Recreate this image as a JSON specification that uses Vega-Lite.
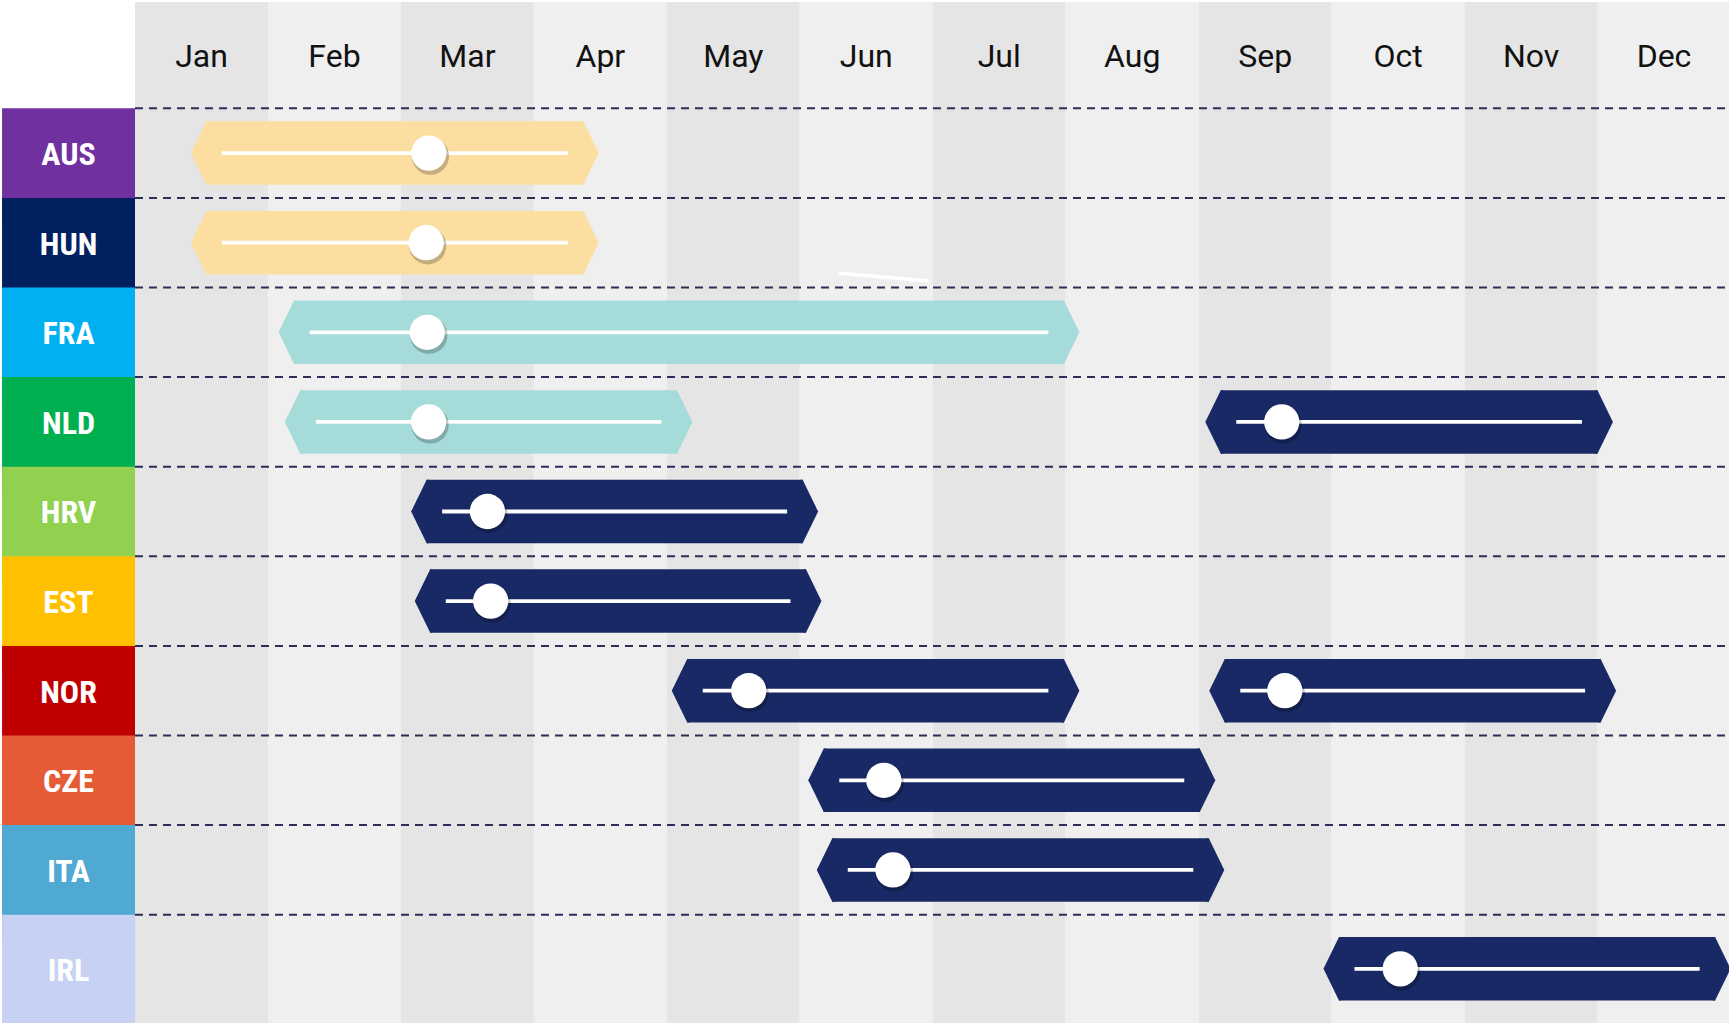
{
  "$schema": "https://vega.github.io/schema/vega-lite/v6.json",
  "width": 1729,
  "height": 1023,
  "padding": 0,
  "autosize": {"type": "none"},
  "background": "#ffffff",
  "config": {"view": {"stroke": null}, "axis": {"disable": true}, "legend": {"disable": true}},
  "resolve": {"scale": {"y": "independent"}},
  "datasets": {
    "months": [
      {"month": "Jan", "start": 0, "end": 1},
      {"month": "Feb", "start": 1, "end": 2},
      {"month": "Mar", "start": 2, "end": 3},
      {"month": "Apr", "start": 3, "end": 4},
      {"month": "May", "start": 4, "end": 5},
      {"month": "Jun", "start": 5, "end": 6},
      {"month": "Jul", "start": 6, "end": 7},
      {"month": "Aug", "start": 7, "end": 8},
      {"month": "Sep", "start": 8, "end": 9},
      {"month": "Oct", "start": 9, "end": 10},
      {"month": "Nov", "start": 10, "end": 11},
      {"month": "Dec", "start": 11, "end": 12}
    ],
    "countries": [
      {"country": "AUS", "row": 1},
      {"country": "HUN", "row": 2},
      {"country": "FRA", "row": 3},
      {"country": "NLD", "row": 4},
      {"country": "HRV", "row": 5},
      {"country": "EST", "row": 6},
      {"country": "NOR", "row": 7},
      {"country": "CZE", "row": 8},
      {"country": "ITA", "row": 9},
      {"country": "IRL", "row": 10}
    ],
    "bars": [
      {"country": "AUS", "row": 1, "start": 0.42, "end": 3.488, "marker": 2.21, "category": "A"},
      {"country": "HUN", "row": 2, "start": 0.42, "end": 3.488, "marker": 2.19, "category": "A"},
      {"country": "FRA", "row": 3, "start": 1.08, "end": 7.103, "marker": 2.198, "category": "B"},
      {"country": "NLD", "row": 4, "start": 1.127, "end": 4.193, "marker": 2.208, "category": "B"},
      {"country": "NLD", "row": 4, "start": 8.05, "end": 11.116, "marker": 8.625, "category": "C"},
      {"country": "HRV", "row": 5, "start": 2.077, "end": 5.138, "marker": 2.651, "category": "C"},
      {"country": "EST", "row": 6, "start": 2.104, "end": 5.163, "marker": 2.675, "category": "C"},
      {"country": "NOR", "row": 7, "start": 4.037, "end": 7.103, "marker": 4.616, "category": "C"},
      {"country": "NOR", "row": 7, "start": 8.08, "end": 11.14, "marker": 8.648, "category": "C"},
      {"country": "CZE", "row": 8, "start": 5.064, "end": 8.125, "marker": 5.632, "category": "C"},
      {"country": "ITA", "row": 9, "start": 5.128, "end": 8.193, "marker": 5.701, "category": "C"},
      {"country": "IRL", "row": 10, "start": 8.939, "end": 12.001, "marker": 9.516, "category": "C"}
    ]
  },
  "layer": [
    {
      "data": {"name": "months"},
      "mark": {"type": "rect"},
      "encoding": {
        "x": {"field": "start", "type": "quantitative", "scale": {"type": "linear", "domain": [-1.0154, 11.989], "nice": false, "zero": false}, "axis": null},
        "x2": {"field": "end"},
        "y": {"datum": -0.6864, "type": "quantitative", "scale": {"type": "linear", "domain": [-0.7087, 10.7087], "nice": false, "zero": false, "reverse": true}, "axis": null},
        "y2": {"datum": 10.7087},
        "fill": {"condition": {"test": "datum.start % 2 === 0", "value": "#e5e5e5"}, "value": "#efefef"}
      }
    },
    {
      "data": {"name": "months"},
      "mark": {"type": "text", "xOffset": 66.5, "dy": 2.5, "font": "Roboto", "fontSize": 32, "color": "#111111", "align": "center", "baseline": "middle"},
      "encoding": {
        "x": {"field": "start", "type": "quantitative", "scale": {"type": "linear", "domain": [-1.0154, 11.989], "nice": false, "zero": false}, "axis": null},
        "y": {"datum": -0.095, "type": "quantitative", "scale": {"type": "linear", "domain": [-0.7087, 10.7087], "nice": false, "zero": false, "reverse": true}, "axis": null},
        "text": {"field": "month"}
      }
    },
    {
      "data": {"name": "countries"},
      "mark": {"type": "rule", "yOffset": -44.8, "stroke": "#2b2e57", "strokeWidth": 2, "strokeDash": [8, 6]},
      "encoding": {
        "x": {"datum": 0, "type": "quantitative", "scale": {"type": "linear", "domain": [-1.0154, 11.989], "nice": false, "zero": false}, "axis": null},
        "x2": {"datum": 11.989},
        "y": {"field": "row", "type": "quantitative", "scale": {"type": "linear", "domain": [-0.7087, 10.7087], "nice": false, "zero": false, "reverse": true}, "axis": null}
      }
    },
    {
      "data": {"name": "countries"},
      "mark": {"type": "rect", "yOffset": -44.8, "y2Offset": 72, "clip": true},
      "encoding": {
        "x": {"datum": -1.0, "type": "quantitative", "scale": {"type": "linear", "domain": [-1.0154, 11.989], "nice": false, "zero": false}, "axis": null},
        "x2": {"datum": 0},
        "y": {"field": "row", "type": "quantitative", "scale": {"type": "linear", "domain": [-0.7087, 10.7087], "nice": false, "zero": false, "reverse": true}, "axis": null},
        "y2": {"field": "row"},
        "fill": {"field": "country", "type": "nominal", "legend": null, "scale": {"domain": ["AUS", "HUN", "FRA", "NLD", "HRV", "EST", "NOR", "CZE", "ITA", "IRL"], "range": ["#7030a0", "#002060", "#00b0f0", "#00b050", "#92d050", "#ffc000", "#c00000", "#e45b36", "#50a9d2", "#c6d1f3"]}}
      }
    },
    {
      "data": {"name": "countries"},
      "mark": {"type": "text", "dy": 2, "font": "Roboto Condensed, Liberation Sans Narrow, Roboto, sans-serif", "fontWeight": "bold", "fontSize": 32, "color": "#ffffff", "align": "center", "baseline": "middle"},
      "encoding": {
        "x": {"datum": -0.5, "type": "quantitative", "scale": {"type": "linear", "domain": [-1.0154, 11.989], "nice": false, "zero": false}, "axis": null},
        "y": {"field": "row", "type": "quantitative", "scale": {"type": "linear", "domain": [-0.7087, 9.5, 10.5], "range": [0, 914.7, 1023], "nice": false, "zero": false}, "axis": null},
        "text": {"field": "country"}
      }
    },
    {
      "data": {"name": "bars"},
      "mark": {"type": "rect", "xOffset": 15.5, "x2Offset": -15.5, "yOffset": -31.75, "y2Offset": 31.75},
      "encoding": {
        "x": {"field": "start", "type": "quantitative", "scale": {"type": "linear", "domain": [-1.0154, 11.989], "nice": false, "zero": false}, "axis": null},
        "x2": {"field": "end"},
        "y": {"field": "row", "type": "quantitative", "scale": {"type": "linear", "domain": [-0.7087, 9.5, 10.5], "range": [0, 914.7, 1023], "nice": false, "zero": false}, "axis": null},
        "y2": {"field": "row"},
        "color": {"field": "category", "type": "nominal", "legend": null, "scale": {"domain": ["A", "B", "C"], "range": ["#fcdfa0", "#a5dcd9", "#192965"]}}
      }
    },
    {
      "data": {"name": "bars"},
      "mark": {"type": "point", "filled": true, "opacity": 1, "size": 4032, "shape": "M0,0L0.488,-1L0.56,-1L0.56,1L0.488,1Z"},
      "encoding": {
        "x": {"field": "start", "type": "quantitative", "scale": {"type": "linear", "domain": [-1.0154, 11.989], "nice": false, "zero": false}, "axis": null},
        "y": {"field": "row", "type": "quantitative", "scale": {"type": "linear", "domain": [-0.7087, 9.5, 10.5], "range": [0, 914.7, 1023], "nice": false, "zero": false}, "axis": null},
        "color": {"field": "category", "type": "nominal", "legend": null, "scale": {"domain": ["A", "B", "C"], "range": ["#fcdfa0", "#a5dcd9", "#192965"]}}
      }
    },
    {
      "data": {"name": "bars"},
      "mark": {"type": "point", "filled": true, "opacity": 1, "size": 4032, "shape": "M0,0L-0.488,-1L-0.56,-1L-0.56,1L-0.488,1Z"},
      "encoding": {
        "x": {"field": "end", "type": "quantitative", "scale": {"type": "linear", "domain": [-1.0154, 11.989], "nice": false, "zero": false}, "axis": null},
        "y": {"field": "row", "type": "quantitative", "scale": {"type": "linear", "domain": [-0.7087, 9.5, 10.5], "range": [0, 914.7, 1023], "nice": false, "zero": false}, "axis": null},
        "color": {"field": "category", "type": "nominal", "legend": null, "scale": {"domain": ["A", "B", "C"], "range": ["#fcdfa0", "#a5dcd9", "#192965"]}}
      }
    },
    {
      "data": {"name": "bars"},
      "mark": {"type": "rule", "xOffset": 31, "x2Offset": -31, "stroke": "#ffffff", "strokeWidth": 3.8},
      "encoding": {
        "x": {"field": "start", "type": "quantitative", "scale": {"type": "linear", "domain": [-1.0154, 11.989], "nice": false, "zero": false}, "axis": null},
        "x2": {"field": "end"},
        "y": {"field": "row", "type": "quantitative", "scale": {"type": "linear", "domain": [-0.7087, 9.5, 10.5], "range": [0, 914.7, 1023], "nice": false, "zero": false}, "axis": null}
      }
    },
    {
      "data": {"name": "bars"},
      "mark": {"type": "point", "shape": "circle", "filled": true, "fill": "#000000", "opacity": 0.22, "size": 1400, "xOffset": 1.5, "yOffset": 3},
      "encoding": {
        "x": {"field": "marker", "type": "quantitative", "scale": {"type": "linear", "domain": [-1.0154, 11.989], "nice": false, "zero": false}, "axis": null},
        "y": {"field": "row", "type": "quantitative", "scale": {"type": "linear", "domain": [-0.7087, 9.5, 10.5], "range": [0, 914.7, 1023], "nice": false, "zero": false}, "axis": null}
      }
    },
    {
      "data": {"name": "bars"},
      "mark": {"type": "point", "shape": "circle", "filled": true, "fill": "#ffffff", "opacity": 1, "size": 1246},
      "encoding": {
        "x": {"field": "marker", "type": "quantitative", "scale": {"type": "linear", "domain": [-1.0154, 11.989], "nice": false, "zero": false}, "axis": null},
        "y": {"field": "row", "type": "quantitative", "scale": {"type": "linear", "domain": [-0.7087, 9.5, 10.5], "range": [0, 914.7, 1023], "nice": false, "zero": false}, "axis": null}
      }
    },
    {
      "data": {"values": [{"piece": "stray stroke"}]},
      "mark": {"type": "rule", "stroke": "#ffffff", "strokeWidth": 3.5},
      "encoding": {
        "x": {"datum": 5.295, "type": "quantitative", "scale": {"type": "linear", "domain": [-1.0154, 11.989], "nice": false, "zero": false}, "axis": null},
        "x2": {"datum": 5.97},
        "y": {"datum": 2.3415, "type": "quantitative", "scale": {"type": "linear", "domain": [-0.7087, 10.7087], "nice": false, "zero": false, "reverse": true}, "axis": null},
        "y2": {"datum": 2.4275}
      }
    }
  ]
}
